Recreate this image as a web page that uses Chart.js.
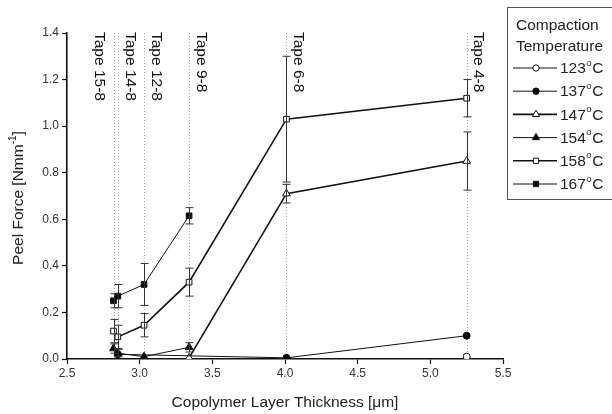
<!DOCTYPE html>
<html>
<head>
<meta charset="utf-8">
<script src="https://cdn.jsdelivr.net/npm/chart.js@4.4.1/dist/chart.umd.min.js"></script>
<style>
html,body{margin:0;padding:0;background:#fff;}
#wrap{width:612px;height:414px;position:relative;}
</style>
</head>
<body>
<div id="wrap"><canvas id="c" width="612" height="414"></canvas></div>
<script>
// Tape positions (copolymer layer thickness, µm)
const tapeX = [2.82, 2.85, 3.03, 3.34, 4.01, 5.25];
const tapeLabels = ['Tape 15-8', 'Tape 14-8', 'Tape 12-8', 'Tape 9-8', 'Tape 6-8', 'Tape 4-8'];

// Peel force values per compaction temperature (null = no point)
const s123 = [null, null, null, null, null, 0.01];
const s137 = [null, 0.02, null, null, 0.005, 0.10];
const s147 = [null, null, null, 0.005, 0.71, 0.85];
const s154 = [0.045, 0.025, 0.01, 0.05, null, null];
const s158 = [0.12, 0.095, 0.145, 0.33, 1.03, 1.12];
const s167 = [0.25, 0.27, 0.32, 0.615, null, null];

// Error bar half-widths
const e123 = [null, null, null, null, null, 0];
const e137 = [null, 0, null, null, 0, 0];
const e147 = [null, null, null, 0, 0.04, 0.125];
const e154 = [0.02, 0.015, 0, 0.02, null, null];
const e158 = [0.05, 0.05, 0.05, 0.06, 0.27, 0.08];
const e167 = [0.03, 0.05, 0.09, 0.035, null, null];

const seriesNames = ['123°C', '137°C', '147°C', '154°C', '158°C', '167°C'];
const xTicks = [2.5, 3.0, 3.5, 4.0, 4.5, 5.0, 5.5];
const yTicks = [0.0, 0.2, 0.4, 0.6, 0.8, 1.0, 1.2, 1.4];

const FONT = '"Liberation Sans", Arial, sans-serif';

function build(vals, errs) {
  const pts = [];
  vals.forEach((v, i) => { if (v !== null) pts.push({x: tapeX[i], y: v, e: errs[i] || 0}); });
  return pts;
}

const styles = [
  {pointStyle: 'circle', fill: '#fff', r: 3.5, w: 1},
  {pointStyle: 'circle', fill: '#000', r: 3.5, w: 1},
  {pointStyle: 'triangle', fill: '#fff', r: 4.5, w: 1.6},
  {pointStyle: 'triangle', fill: '#000', r: 4.5, w: 1},
  {pointStyle: 'rect', fill: '#fff', r: 4, w: 1.6},
  {pointStyle: 'rect', fill: '#000', r: 4, w: 1}
];
const allVals = [s123, s137, s147, s154, s158, s167];
const allErrs = [e123, e137, e147, e154, e158, e167];

const datasets = allVals.map((v, i) => ({
  label: seriesNames[i],
  data: build(v, allErrs[i]),
  borderColor: '#111',
  borderWidth: styles[i].w,
  backgroundColor: styles[i].fill,
  pointStyle: styles[i].pointStyle,
  pointRadius: styles[i].r,
  pointBorderWidth: 1,
  pointBorderColor: '#111',
  pointBackgroundColor: styles[i].fill,
  tension: 0,
  fill: false
}));

const overlay = {
  id: 'overlay',
  beforeDatasetsDraw(chart) {
    const {ctx, scales: {x, y}} = chart;
    ctx.save();
    ctx.strokeStyle = '#aaa';
    ctx.lineWidth = 1;
    ctx.setLineDash([1, 2]);
    tapeX.forEach(t => {
      const px = Math.round(x.getPixelForValue(t)) + 0.5;
      ctx.beginPath();
      ctx.moveTo(px, y.getPixelForValue(1.4));
      ctx.lineTo(px, y.getPixelForValue(0));
      ctx.stroke();
    });
    ctx.restore();
  },
  afterDatasetsDraw(chart) {
    const {ctx, scales: {x, y}} = chart;
    ctx.save();
    ctx.strokeStyle = '#333';
    ctx.lineWidth = 1;
    chart.data.datasets.forEach(ds => {
      ds.data.forEach(p => {
        if (!p.e) return;
        const px = Math.round(x.getPixelForValue(p.x)) + 0.5;
        const yt = y.getPixelForValue(p.y + p.e);
        const yb = y.getPixelForValue(Math.max(0, p.y - p.e));
        ctx.beginPath();
        ctx.moveTo(px, yt); ctx.lineTo(px, yb);
        ctx.moveTo(px - 4, yt); ctx.lineTo(px + 4, yt);
        if (p.y - p.e > 0) { ctx.moveTo(px - 4, yb); ctx.lineTo(px + 4, yb); }
        ctx.stroke();
      });
    });
    ctx.restore();
  },
  afterDraw(chart) {
    const {ctx, scales: {x, y}} = chart;
    ctx.save();
    // tape labels
    ctx.fillStyle = '#111';
    ctx.font = '15.5px ' + FONT;
    ctx.textBaseline = 'middle';
    ctx.textAlign = 'left';
    tapeX.forEach((t, i) => {
      let px = x.getPixelForValue(t);
      px = (i === 0) ? px - 14 : px + 12;
      ctx.save();
      ctx.translate(px, 32);
      ctx.rotate(Math.PI / 2);
      ctx.fillText(tapeLabels[i], 0, 0);
      ctx.restore();
    });
    // axis titles
    ctx.fillStyle = '#222';
    ctx.font = '15.5px ' + FONT;
    ctx.textAlign = 'center';
    ctx.textBaseline = 'middle';
    ctx.fillText('Copolymer Layer Thickness [\u03bcm]', (x.left + x.right) / 2, 403);
    // y title with superscript
    ctx.save();
    ctx.translate(19, 198);
    ctx.rotate(-Math.PI / 2);
    const main = 'Peel Force [Nmm';
    ctx.font = '15.5px ' + FONT;
    const w1 = ctx.measureText(main).width;
    ctx.font = '10px ' + FONT;
    const w2 = ctx.measureText('-1').width;
    ctx.font = '15.5px ' + FONT;
    const w3 = ctx.measureText(']').width;
    const tot = w1 + w2 + w3;
    let sx = -tot / 2;
    ctx.textAlign = 'left';
    ctx.fillText(main, sx, 0);
    ctx.font = '10px ' + FONT;
    ctx.fillText('-1', sx + w1, -6);
    ctx.font = '15.5px ' + FONT;
    ctx.fillText(']', sx + w1 + w2, 0);
    ctx.restore();

    // legend
    ctx.strokeStyle = '#555';
    ctx.lineWidth = 1;
    ctx.strokeRect(507.5, 7.5, 120, 192);
    ctx.fillStyle = '#222';
    ctx.font = '15.5px ' + FONT;
    ctx.textAlign = 'left';
    ctx.fillText('Compaction', 516, 26);
    ctx.fillText('Temperature', 516, 47);
    seriesNames.forEach((n, i) => {
      const ly = 68 + i * 23.2;
      ctx.strokeStyle = '#111';
      ctx.lineWidth = styles[i].w;
      ctx.beginPath();
      ctx.moveTo(513, ly); ctx.lineTo(557, ly);
      ctx.stroke();
      ctx.lineWidth = 1;
      ctx.fillStyle = styles[i].fill;
      ctx.strokeStyle = '#111';
      Chart.helpers.drawPoint(ctx, {pointStyle: styles[i].pointStyle, radius: styles[i].r - 0.3, borderWidth: 1, rotation: 0}, 536, ly);
      ctx.fillStyle = '#222';
      ctx.font = '15.5px ' + FONT;
      const num = n.replace('°C', '');
      ctx.fillText(num, 560, ly + 1);
      const wn = ctx.measureText(num).width;
      ctx.font = '9.5px ' + FONT;
      ctx.fillText('o', 560 + wn + 0.5, ly - 5);
      const wo = ctx.measureText('o').width;
      ctx.font = '15.5px ' + FONT;
      ctx.fillText('C', 560 + wn + wo + 1, ly + 1);
    });
    ctx.restore();
  }
};

new Chart(document.getElementById('c'), {
  type: 'line',
  data: {datasets},
  options: {
    responsive: false,
    animation: false,
    layout: {padding: {left: 0, right: 109, top: 33, bottom: 0}},
    plugins: {legend: {display: false}, tooltip: {enabled: false}},
    scales: {
      x: {
        type: 'linear', min: 2.5, max: 5.5,
        afterBuildTicks(s) { s.ticks = xTicks.map(v => ({value: v})); },
        afterFit(s) { s.height = 55; },
        grid: {display: true, drawOnChartArea: false, drawTicks: true, tickLength: 5, color: '#111', tickWidth: 1.2},
        border: {color: '#111', width: 1.6},
        ticks: {color: '#333', font: {family: FONT, size: 12}, padding: 2, maxRotation: 0,
          callback: v => Number(v).toFixed(1)}
      },
      y: {
        type: 'linear', min: 0, max: 1.4,
        afterBuildTicks(s) { s.ticks = yTicks.map(v => ({value: v})); },
        afterFit(s) { s.width = 67; },
        grid: {display: true, drawOnChartArea: false, drawTicks: true, tickLength: 5, color: '#111', tickWidth: 1.2},
        border: {color: '#111', width: 1.6},
        ticks: {color: '#333', font: {family: FONT, size: 12}, padding: 3,
          callback: v => Number(v).toFixed(1)}
      }
    }
  },
  plugins: [overlay]
});
</script>
</body>
</html>
